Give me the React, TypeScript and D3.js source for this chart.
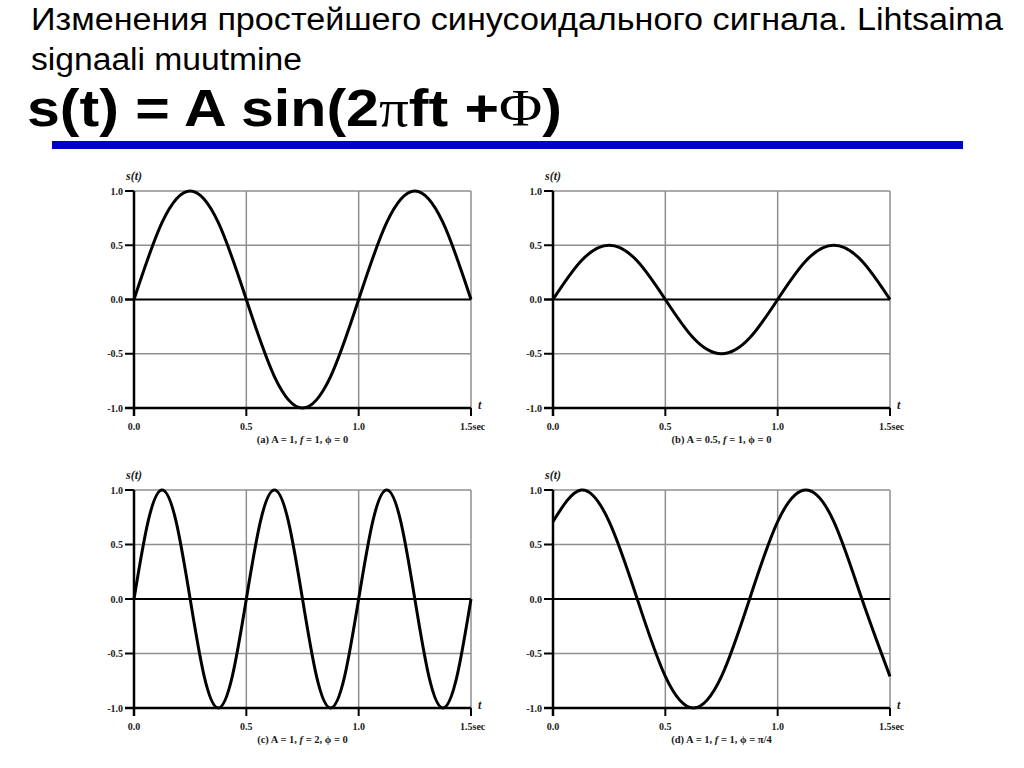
import React from "react";
import * as d3 from "d3";

// ---- data ----
const timeTicks = [0, 0.5, 1.0, 1.5];
const timeTickLabels = ["0.0", "0.5", "1.0", "1.5sec"];
const ampTicks = [1.0, 0.5, 0.0, -0.5, -1.0];
const ampTickLabels = ["1.0", "0.5", "0.0", "-0.5", "-1.0"];
const gridAmps = [1.0, 0.5, -0.5];
const gridTimes = [0.5, 1.0, 1.5];

const captionPrefix = ["(a) A = 1, ", "(b) A = 0.5, ", "(c) A = 1, ", "(d) A = 1, "];
const captionSuffix = [" = 1, \u03D5 = 0", " = 1, \u03D5 = 0", " = 2, \u03D5 = 0", " = 1, \u03D5 = \u03C0/4"];

const timesEighth = [0, 0.125, 0.25, 0.375, 0.5, 0.625, 0.75, 0.875, 1.0, 1.125, 1.25, 1.375, 1.5];
const timesSixteenth = [
  0, 0.0625, 0.125, 0.1875, 0.25, 0.3125, 0.375, 0.4375, 0.5, 0.5625, 0.625, 0.6875, 0.75,
  0.8125, 0.875, 0.9375, 1.0, 1.0625, 1.125, 1.1875, 1.25, 1.3125, 1.375, 1.4375, 1.5,
];

const valuesA = [0, 0.71, 1, 0.71, 0, -0.71, -1, -0.71, 0, 0.71, 1, 0.71, 0];
const valuesB = [0, 0.355, 0.5, 0.355, 0, -0.355, -0.5, -0.355, 0, 0.355, 0.5, 0.355, 0];
const valuesC = [
  0, 0.71, 1, 0.71, 0, -0.71, -1, -0.71, 0, 0.71, 1, 0.71, 0, -0.71, -1, -0.71, 0, 0.71, 1, 0.71, 0,
  -0.71, -1, -0.71, 0,
];
const valuesD = [0.71, 1, 0.71, 0, -0.71, -1, -0.71, 0, 0.71, 1, 0.71, 0, -0.71];

const seriesTimes = [timesEighth, timesEighth, timesSixteenth, timesEighth];
const seriesValues = [valuesA, valuesB, valuesC, valuesD];

// ---- layout ----
const panels = [
  { left: 134, right: 471, top: 191, bottom: 408 },
  { left: 553, right: 890, top: 191, bottom: 408 },
  { left: 134, right: 471, top: 490, bottom: 708 },
  { left: 553, right: 890, top: 490, bottom: 708 },
];

const GRAY = "#8f8f8f";
const SERIF = "'Liberation Serif', 'DejaVu Serif', serif";
const SANS = "'Liberation Sans', Arial, sans-serif";
const TXT = "#1a1a1a";

function Panel({ idx }: { idx: number }) {
  const p = panels[idx];
  const x = d3.scaleLinear().domain([0, 1.5]).range([p.left, p.right]);
  const y = d3.scaleLinear().domain([-1, 1]).range([p.bottom, p.top]);
  const pts = seriesTimes[idx].map((t, i) => [t, seriesValues[idx][i]] as [number, number]);
  const line = d3
    .line<[number, number]>()
    .x((d) => x(d[0]))
    .y((d) => y(d[1]))
    .curve(d3.curveNatural);
  return (
    <g>
      {gridAmps.map((a) => (
        <line key={"ga" + a} x1={x(0)} x2={x(1.5)} y1={y(a)} y2={y(a)} stroke={GRAY} strokeWidth={1.5} />
      ))}
      {gridTimes.map((t) => (
        <line key={"gt" + t} x1={x(t)} x2={x(t)} y1={y(1)} y2={y(-1)} stroke={GRAY} strokeWidth={1.5} />
      ))}
      <line x1={x(0) - 9} x2={x(1.5)} y1={y(0)} y2={y(0)} stroke="#000" strokeWidth={2} />
      <line x1={x(0)} x2={x(0)} y1={y(1)} y2={y(-1) + 8} stroke="#000" strokeWidth={2.5} />
      <line x1={x(0) - 9} x2={x(1.5)} y1={y(-1)} y2={y(-1)} stroke="#000" strokeWidth={2.5} />
      {ampTicks.map((a) => (
        <line key={"ta" + a} x1={x(0) - 9} x2={x(0)} y1={y(a)} y2={y(a)} stroke="#000" strokeWidth={2} />
      ))}
      {timeTicks.map((t) => (
        <line key={"tt" + t} x1={x(t)} x2={x(t)} y1={y(-1)} y2={y(-1) + 8} stroke="#000" strokeWidth={2} />
      ))}
      {ampTicks.map((a, i) => (
        <text
          key={"la" + a}
          x={x(0) - 11}
          y={y(a) + 3.5}
          textAnchor="end"
          fontFamily={SERIF}
          fontWeight="bold"
          fontSize={10}
          fill={TXT}
        >
          {ampTickLabels[i]}
        </text>
      ))}
      {timeTicks.map((t, i) => (
        <text
          key={"lt" + t}
          x={i === timeTicks.length - 1 ? x(t) - 11 : x(t)}
          y={y(-1) + 22}
          textAnchor={i === timeTicks.length - 1 ? "start" : "middle"}
          fontFamily={SERIF}
          fontWeight="bold"
          fontSize={10}
          fill={TXT}
        >
          {timeTickLabels[i]}
        </text>
      ))}
      <text x={x(1.5) + 7} y={y(-1) + 1} fontFamily={SERIF} fontStyle="italic" fontWeight="bold" fontSize={12} fill={TXT}>
        t
      </text>
      <text x={x(0)} y={y(1) - 11} textAnchor="middle" fontFamily={SERIF} fontStyle="italic" fontWeight="bold" fontSize={12} fill={TXT}>
        s(t)
      </text>
      <text
        x={(x(0) + x(1.5)) / 2}
        y={y(-1) + 35}
        textAnchor="middle"
        fontFamily={SERIF}
        fontWeight="bold"
        fontSize={10.5}
        fill={TXT}
      >
        {captionPrefix[idx]}
        <tspan fontStyle="italic">f</tspan>
        {captionSuffix[idx]}
      </text>
      <path d={line(pts) || ""} fill="none" stroke="#000" strokeWidth={3} strokeLinejoin="round" />
    </g>
  );
}

export default function App() {
  return (
    <svg
      width={1024}
      height={768}
      style={{ position: "absolute", left: 0, top: 0, background: "#fff" }}
    >
      <rect x={0} y={0} width={1024} height={768} fill="#fff" />
      <text x={31} y={30} fontFamily={SANS} fontSize={31} fill="#000" textLength={972} lengthAdjust="spacingAndGlyphs">
        Изменения простейшего синусоидального сигнала. Lihtsaima
      </text>
      <text x={31} y={70} fontFamily={SANS} fontSize={31} fill="#000" textLength={271} lengthAdjust="spacingAndGlyphs">
        signaali muutmine
      </text>
      <text x={27} y={126} fontFamily={SANS} fontSize={52} fontWeight="bold" fill="#000" textLength={535} lengthAdjust="spacingAndGlyphs">
        s(t) = A sin(2
        <tspan fontFamily={SERIF} fontWeight="normal">π</tspan>
        ft +
        <tspan fontFamily={SERIF} fontWeight="normal">Φ</tspan>)
      </text>
      <rect x={52} y={141} width={911} height={8} fill="#0000cc" />
      {panels.map((_, i) => (
        <Panel key={i} idx={i} />
      ))}
    </svg>
  );
}
